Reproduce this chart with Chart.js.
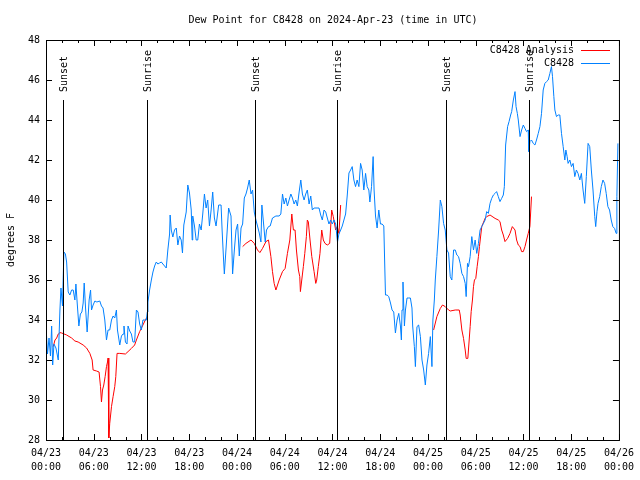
<!DOCTYPE html>
<html>
<head>
<meta charset="utf-8">
<script src="https://cdn.jsdelivr.net/npm/chart.js@4.4.1/dist/chart.umd.min.js"></script>
<style>
  body { margin: 0; background: #fff; }
  canvas { display: block; }
</style>
</head>
<body>
<canvas id="dewpoint" width="640" height="480"></canvas>
<script>
// hours after 04/23 00:00 UTC, dew point in F
const obsSeries = [
  [0,33.7],[0.19,32.3],[0.38,33.1],[0.56,32.2],[0.71,33.7],[0.84,31.75],[1.0,32.8],[1.25,32.6],[1.54,32.0],[1.75,34.5],
  [1.88,35.6],[2.07,34.7],[2.25,37.4],[2.44,37.3],[2.59,36.9],[2.79,35.4],[3.0,35.25],[3.22,35.5],[3.42,35.5],[3.63,35.0],
  [3.76,35.8],[3.92,34.85],[4.13,33.7],[4.32,34.3],[4.51,34.4],[4.67,34.85],[4.8,35.85],[4.97,34.6],[5.17,33.4],[5.42,35.0],
  [5.6,35.5],[5.72,34.5],[5.92,34.75],[6.14,34.95],[6.39,34.9],[6.76,34.95],[6.97,34.7],[7.17,34.6],[7.39,34.0],[7.6,33.0],
  [7.8,33.5],[8.01,33.5],[8.23,34.0],[8.43,34.2],[8.64,34.1],[8.85,34.5],[8.98,33.5],[9.27,32.75],[9.48,33.2],[9.68,33.3],
  [9.8,33.7],[9.98,32.9],[10.18,32.8],[10.31,33.7],[10.52,33.45],[10.73,33.3],[10.93,32.9],[11.14,32.9],[11.36,34.5],[11.56,34.4],
  [11.77,33.8],[11.98,33.5],[12.18,34.0],[12.4,34.0],[12.61,34.0],[12.73,34.4],[12.81,34.9],[13.02,35.5],[13.24,36.0],[13.44,36.4],
  [13.65,36.7],[13.86,36.9],[14.06,36.8],[14.27,36.85],[14.49,36.9],[14.69,36.8],[14.9,36.7],[15.11,36.6],[15.31,37.5],[15.53,38.3],
  [15.6,39.25],[15.74,38.5],[15.94,38.15],[16.15,38.5],[16.37,38.6],[16.57,37.75],[16.78,38.2],[16.99,38.0],[17.15,37.35],[17.32,38.75],
  [17.62,39.4],[17.82,40.75],[18.03,40.35],[18.25,39.5],[18.37,38.0],[18.44,39.2],[18.66,38.7],[18.87,38.0],[19.07,38.0],[19.28,38.8],
  [19.5,38.5],[19.7,39.3],[19.91,40.3],[20.12,39.6],[20.32,40.0],[20.54,38.7],[20.75,39.5],[20.95,40.4],[21.16,39.1],[21.37,38.7],
  [21.7,39.75],[22.0,39.75],[22.13,38.5],[22.29,37.2],[22.41,36.3],[22.63,37.6],[22.79,38.6],[22.95,39.6],[23.25,39.2],[23.45,36.3],
  [23.67,37.5],[23.88,38.5],[24.08,38.8],[24.29,37.2],[24.51,38.6],[24.71,38.8],[24.92,40.1],[25.13,40.3],[25.33,40.6],[25.54,41.0],
  [25.76,40.3],[25.96,40.5],[26.17,39.4],[26.38,39.0],[26.58,38.7],[26.8,38.35],[27.01,37.9],[27.13,39.75],[27.3,39.0],[27.55,37.9],
  [27.71,38.5],[27.96,38.67],[28.17,38.7],[28.46,39.1],[28.89,39.2],[29.3,39.2],[29.51,39.3],[29.72,40.3],[29.93,39.8],[30.14,40.1],
  [30.34,39.7],[30.55,40.0],[30.77,40.3],[30.97,40.1],[31.18,39.8],[31.39,40.0],[31.59,39.7],[31.81,40.4],[32.02,41.0],[32.22,40.3],
  [32.43,40.0],[32.64,40.3],[32.84,40.5],[33.06,39.8],[33.27,40.2],[33.47,39.5],[33.69,39.6],[34.06,39.6],[34.31,39.6],[34.52,39.25],
  [34.72,39.0],[34.94,39.5],[35.15,39.4],[35.35,39.1],[35.56,38.8],[35.77,39.0],[35.98,38.8],[36.19,39.0],[36.4,38.8],[36.5,38.4],
  [36.63,37.9],[36.81,38.3],[37.03,38.5],[37.23,38.7],[37.44,39.0],[37.65,39.3],[37.85,40.2],[38.07,41.35],[38.28,41.5],[38.48,41.67],
  [38.69,41.0],[38.9,40.67],[39.1,41.0],[39.32,40.67],[39.53,41.83],[39.73,41.5],[39.94,40.5],[40.16,41.33],[40.36,40.67],[40.57,40.5],
  [40.7,39.9],[40.91,40.67],[41.11,42.17],[41.23,40.5],[41.41,39.2],[41.61,38.6],[41.82,39.5],[42.03,38.8],[42.24,38.8],[42.45,38.7],
  [42.54,37.2],[42.66,35.25],[42.86,35.25],[43.07,35.17],[43.29,34.85],[43.49,34.5],[43.7,34.4],[43.91,33.35],[44.12,34.0],[44.33,34.33],
  [44.54,33.7],[44.66,33.0],[44.74,34.5],[44.86,35.9],[45.04,33.7],[45.17,34.5],[45.37,35.1],[45.58,35.1],[45.79,35.1],[45.99,34.6],
  [46.08,33.7],[46.29,32.67],[46.42,31.67],[46.62,33.67],[46.83,33.75],[47.05,33.17],[47.25,32.0],[47.46,31.5],[47.67,30.75],[47.87,31.75],
  [48.08,32.33],[48.3,33.17],[48.5,31.67],[48.62,34.0],[48.8,35.0],[48.92,36.0],[49.12,37.17],[49.34,38.5],[49.55,40.0],[49.75,39.67],
  [49.96,38.83],[50.17,38.5],[50.38,37.5],[50.59,37.35],[50.8,36.17],[51.0,36.0],[51.22,37.5],[51.43,37.5],[51.63,37.25],[51.84,37.17],
  [52.05,36.83],[52.26,36.33],[52.47,36.17],[52.68,35.83],[52.8,35.17],[52.97,36.83],[53.09,36.67],[53.3,37.17],[53.51,38.17],[53.72,37.5],
  [53.93,38.0],[54.13,37.33],[54.34,37.83],[54.55,38.5],[54.76,38.67],[54.97,38.83],[55.18,39.0],[55.38,39.42],[55.59,39.33],[55.8,39.83],
  [56.01,40.08],[56.22,40.25],[56.43,40.33],[56.63,40.42],[56.84,40.17],[57.05,39.92],[57.26,40.08],[57.47,40.25],[57.6,40.67],[57.76,42.75],
  [58.01,43.67],[58.19,43.92],[58.39,44.25],[58.52,44.42],[58.73,45.0],[58.94,45.42],[59.07,44.67],[59.23,44.33],[59.35,44.0],[59.57,43.17],
  [59.77,43.5],[59.98,43.75],[60.19,43.58],[60.39,43.42],[60.6,43.5],[60.67,42.42],[60.81,42.92],[61.01,43.0],[61.23,42.83],[61.44,42.75],
  [61.64,43.0],[61.86,43.33],[62.07,43.67],[62.27,44.33],[62.48,45.5],[62.69,45.83],[62.9,45.92],[63.11,46.0],[63.32,46.33],[63.52,46.67],
  [63.65,46.17],[63.82,45.17],[63.95,44.5],[64.15,44.17],[64.36,44.25],[64.57,44.25],[64.78,43.33],[64.99,42.67],[65.2,42.0],[65.33,42.5],
  [65.49,42.17],[65.61,41.83],[65.83,42.0],[66.03,41.67],[66.24,41.83],[66.45,41.17],[66.65,41.5],[66.86,41.33],[67.08,41.0],[67.28,41.33],
  [67.49,40.5],[67.7,39.83],[67.9,41.17],[68.12,42.83],[68.33,42.67],[68.53,41.5],[68.74,40.5],[68.96,39.17],[69.08,38.67],[69.24,39.42],
  [69.37,39.83],[69.58,40.17],[69.78,40.67],[69.99,41.0],[70.2,40.83],[70.4,40.33],[70.61,39.67],[70.82,39.5],[71.03,39.0],[71.23,38.67],
  [71.45,38.58],[71.65,38.33],[71.74,40.17],[71.87,42.83]
];

// analysis, null = no data (line breaks)
const anaSeries = [
  [0.91,32.67],[1.13,33.0],[1.34,33.1],[1.54,33.3],[1.75,33.37],[1.97,33.35],[2.59,33.25],[3.22,33.1],[3.63,32.95],[4.04,32.9],
  [4.67,32.75],[5.1,32.6],[5.51,32.33],[5.8,32.0],[5.92,31.5],[6.35,31.45],[6.67,31.4],[6.85,30.67],[6.97,29.9],[7.1,30.5],
  [7.26,30.75],[7.43,31.17],[7.6,31.67],[7.73,31.9],[7.8,32.1],[7.89,28.1],[8.01,28.83],[8.23,29.67],[8.43,30.17],[8.64,30.67],
  [8.77,31.17],[8.93,32.33],[9.27,32.33],[9.98,32.3],[10.31,32.42],[10.73,32.58],[11.14,32.75],[11.36,33.0],[11.77,33.42],[12.18,33.75],
  [12.52,34.03],[12.68,34.13],[13,null],
  [24.71,37.67],[25.13,37.83],[25.76,38.0],[26.17,37.83],[26.58,37.5],[26.88,37.37],[27.21,37.58],[27.64,37.92],[27.96,38.0],[28.26,37.17],
  [28.46,36.42],[28.67,35.83],[28.89,35.5],[29.3,36.0],[29.72,36.42],[30.05,36.58],[30.34,37.33],[30.64,38.0],[30.89,39.3],[31.09,38.5],
  [31.3,38.5],[31.47,37.5],[31.72,36.5],[31.89,36.17],[31.97,35.42],[32.14,36.0],[32.34,36.67],[32.52,37.33],[32.72,38.17],[32.84,39.0],
  [32.97,38.9],[33.06,38.5],[33.18,38.0],[33.4,37.17],[33.69,36.42],[33.9,35.83],[34.02,36.0],[34.22,36.67],[34.43,37.33],[34.65,38.5],
  [34.85,38.0],[35.06,37.83],[35.35,37.75],[35.65,37.83],[35.9,39.5],[36.1,39.17],[36.4,38.5],[36.6,38.67],[36.81,38.33],[37.03,39.75],
  [37.5,null],
  [48.71,33.5],[49.12,34.17],[49.55,34.58],[49.83,34.75],[50.17,34.67],[50.59,34.5],[50.8,34.45],[51.43,34.5],[51.93,34.5],[52.05,34.25],
  [52.26,33.5],[52.47,33.08],[52.68,32.5],[52.8,32.08],[53.01,32.08],[53.18,33.0],[53.3,33.67],[53.43,34.42],[53.59,35.0],[53.72,35.67],
  [53.84,36.0],[54.01,36.08],[54.18,36.67],[54.34,37.17],[54.47,37.67],[54.76,38.67],[55.18,39.08],[55.38,39.17],[55.8,39.25],[56.43,39.08],
  [56.84,39.0],[57.05,38.92],[57.26,38.5],[57.47,38.25],[57.68,37.92],[58.01,38.08],[58.31,38.33],[58.6,38.67],[58.94,38.5],[59.14,38.0],
  [59.35,37.75],[59.57,37.67],[59.77,37.42],[59.98,37.42],[60.19,37.67],[60.39,38.0],[60.6,38.33],[60.81,38.67],[61.01,40.17]
];

const sunHours = [2.17, 12.69, 26.21, 36.6, 50.25, 60.65];
const sunLabels = ['Sunset', 'Sunrise', 'Sunset', 'Sunrise', 'Sunset', 'Sunrise'];
const dayLabels = ['04/23', '04/24', '04/25', '04/26'];
const hourLabels = ['00:00', '06:00', '12:00', '18:00'];

const FONT = '10px "DejaVu Sans Mono"';
const RED = '#ff0000';
const BLUE = '#0080ff';

function toPoints(series) {
  return series.map(p => ({ x: p[0], y: p[1] }));
}

// gnuplot look: inward ticks on all sides, border, sun lines, legend, titles
const gnuplotDecor = {
  id: 'gnuplotDecor',
  afterDatasetsDraw(chart) {
    const { ctx, chartArea: a, scales: { x, y } } = chart;
    ctx.save();
    ctx.strokeStyle = '#000';
    ctx.fillStyle = '#000';
    ctx.lineWidth = 1;
    ctx.font = FONT;

    sunHours.forEach((h, i) => {
      const px = Math.round(x.getPixelForValue(h)) + 0.5;
      ctx.beginPath();
      ctx.moveTo(px, 100);
      ctx.lineTo(px, a.bottom);
      ctx.stroke();
      ctx.save();
      ctx.translate(px + 1, 92);
      ctx.rotate(-Math.PI / 2);
      ctx.textAlign = 'left';
      ctx.textBaseline = 'middle';
      ctx.fillText(sunLabels[i], 0, 0);
      ctx.restore();
    });

    ctx.strokeRect(a.left + 0.5, a.top + 0.5, a.right - a.left, a.bottom - a.top);

    ctx.beginPath();
    for (let h = 0; h <= 72; h += 2) {
      const px = Math.round(x.getPixelForValue(h)) + 0.5;
      const len = h % 6 === 0 ? 6 : 3;
      ctx.moveTo(px, a.bottom); ctx.lineTo(px, a.bottom - len);
      ctx.moveTo(px, a.top); ctx.lineTo(px, a.top + len);
    }
    for (let v = 28; v <= 48; v += 2) {
      const py = Math.round(y.getPixelForValue(v)) + 0.5;
      ctx.moveTo(a.left, py); ctx.lineTo(a.left + 6, py);
      ctx.moveTo(a.right, py); ctx.lineTo(a.right - 6, py);
    }
    ctx.stroke();

    // legend
    const items = [['C8428 Analysis', RED], ['C8428', BLUE]];
    items.forEach((it, i) => {
      const ly = 50 + i * 13;
      ctx.textAlign = 'right';
      ctx.textBaseline = 'middle';
      ctx.fillStyle = '#000';
      ctx.fillText(it[0], 574, ly);
      ctx.strokeStyle = it[1];
      ctx.beginPath();
      ctx.moveTo(581, ly + 0.5);
      ctx.lineTo(610, ly + 0.5);
      ctx.stroke();
    });

    ctx.fillStyle = '#000';
    ctx.textAlign = 'center';
    ctx.textBaseline = 'middle';
    ctx.fillText('Dew Point for C8428 on 2024-Apr-23 (time in UTC)', 333, 20);
    ctx.save();
    ctx.translate(11, 240);
    ctx.rotate(-Math.PI / 2);
    ctx.fillText('degrees F', 0, 0);
    ctx.restore();
    ctx.restore();
  }
};

new Chart(document.getElementById('dewpoint'), {
  type: 'line',
  data: {
    datasets: [{
      label: 'C8428',
      data: toPoints(obsSeries),
      borderColor: BLUE,
      borderWidth: 1,
      pointRadius: 0,
      tension: 0,
      fill: false
    }, {
      label: 'C8428 Analysis',
      data: toPoints(anaSeries),
      borderColor: RED,
      borderWidth: 1,
      pointRadius: 0,
      tension: 0,
      spanGaps: false,
      fill: false
    }]
  },
  options: {
    responsive: false,
    animation: false,
    devicePixelRatio: 1,
    layout: { padding: { top: 40, right: 19, left: 0, bottom: 0 } },
    plugins: {
      legend: { display: false },
      title: { display: false },
      tooltip: { enabled: false }
    },
    scales: {
      x: {
        type: 'linear',
        min: 0,
        max: 72,
        grid: { display: false, drawTicks: false },
        border: { display: false },
        afterFit(s) { s.height = 40; },
        ticks: {
          stepSize: 6,
          autoSkip: false,
          maxRotation: 0,
          padding: 6,
          color: '#000',
          font: { family: 'DejaVu Sans Mono', size: 10, lineHeight: 1.4 },
          callback: v => [dayLabels[Math.floor(v / 24)], hourLabels[(v % 24) / 6]]
        }
      },
      y: {
        min: 28,
        max: 48,
        grid: { display: false, drawTicks: false },
        border: { display: false },
        afterFit(s) { s.width = 46; },
        ticks: {
          stepSize: 2,
          padding: 6,
          color: '#000',
          font: { family: 'DejaVu Sans Mono', size: 10 }
        }
      }
    }
  },
  plugins: [gnuplotDecor]
});
</script>
</body>
</html>
